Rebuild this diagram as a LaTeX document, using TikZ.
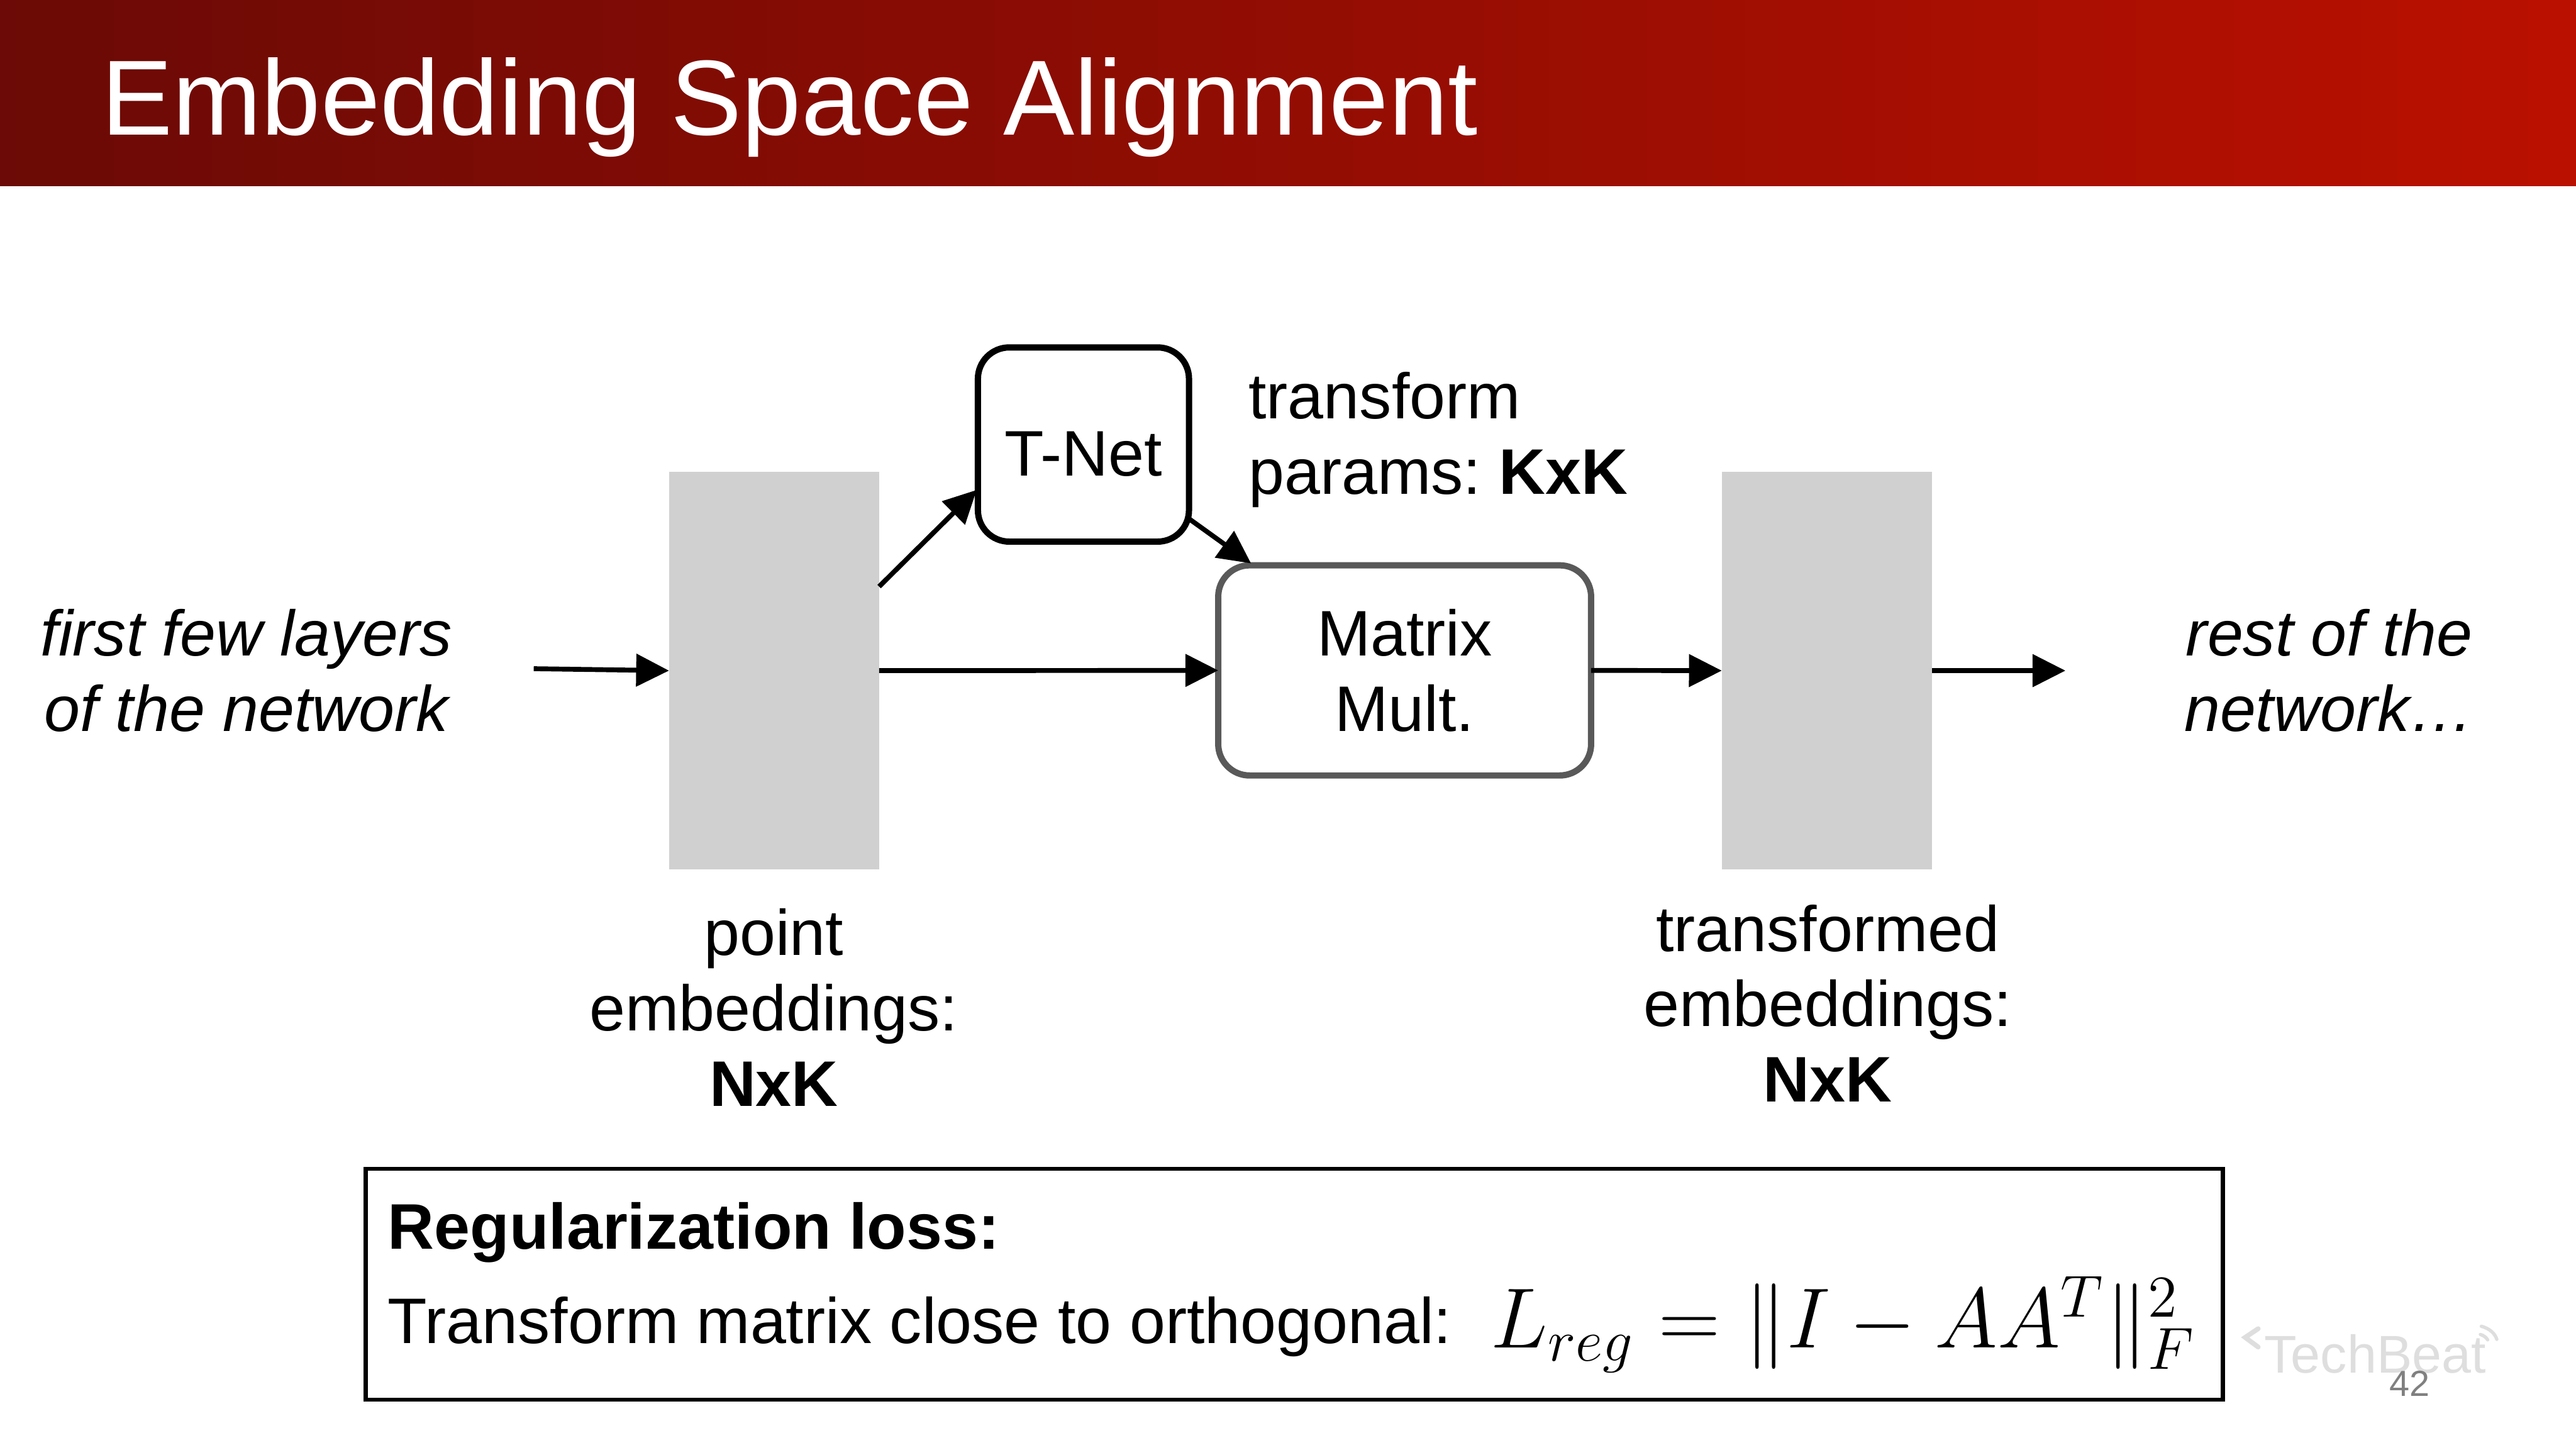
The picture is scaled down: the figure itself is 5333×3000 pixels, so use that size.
\documentclass[tikz,border=0pt]{standalone}
\usepackage{fontspec}
\setmainfont{Liberation Sans}
\usetikzlibrary{arrows.meta}
\definecolor{hdl}{HTML}{6B0A06}
\definecolor{hdr}{HTML}{BA1000}
\definecolor{block}{HTML}{D0D0D0}
\definecolor{wmk}{HTML}{DEDEDE}
\tikzset{
  lbl/.style={inner sep=0pt,outer sep=0pt,align=center,font=\fontsize{13.33}{15.6}\selectfont},
  lblleft/.style={lbl,align=left,anchor=north west},
  layerbox/.style={fill=block,draw=none,inner sep=0pt,outer sep=0pt,minimum width=43.5pt,minimum height=82.3pt},
  opbox/.style={draw=black,line width=1.3pt,rounded corners=6.5pt,fill=white,inner sep=0pt,outer sep=0pt,align=center,font=\fontsize{13.33}{15.6}\selectfont},
  link/.style={draw=black,line width=1pt,-{Triangle[length=6.8pt,width=6.6pt]}},
  wmline/.style={wmk,line cap=round},
}
\begin{document}
\begin{tikzpicture}[x=0.1pt,y=-0.1pt]
\useasboundingbox (0,0) rectangle (5333,3000);
\path[left color=hdl,right color=hdr] (0,0) rectangle (5333,385);
\node[anchor=base west,inner sep=0pt,text=white,font=\fontsize{22.1}{26}\selectfont] (title) at (208,279) {Embedding Space Alignment};

\node[layerbox] (pe) at (1602.5,1388) {};
\node[layerbox] (te) at (3782,1388) {};
\node[opbox,minimum width=43.7pt,minimum height=40.2pt] (tn) at (2243,920) {\raisebox{-2pt}[\height][\depth]{T-Net}};
\node[opbox,draw=black!65,minimum width=77.2pt,minimum height=43.5pt] (mm) at (2908,1387.5) {Matrix\\Mult.};

\node[lbl,anchor=center] (inl) at (510,1388) {\itshape first few layers\\\itshape of the network};
\node[lbl,anchor=center] (outl) at (4822,1388) {\itshape rest of the\\\itshape network…};
\node[lblleft] (tp) at (2585,770) {transform\\params:\hspace{3.7pt}\textbf{KxK}};
\node[lbl,anchor=north] (pl) at (1602,1881) {point\\embeddings:\\\textbf{NxK}};
\node[lbl,anchor=north] (tl) at (3784,1872) {transformed\\embeddings:\\\textbf{NxK}};

\coordinate (inS) at (1105,1384);
\coordinate (outE) at (4276,1388);
\coordinate (peA) at (1820,1214);
\coordinate (tnA) at (2022,1014);
\coordinate (tnB) at (2462,1074);
\coordinate (mmB) at (2590,1166);
\draw[link] (inS) -- (pe.west);
\draw[link] (pe.east) -- (mm.west);
\draw[link] (mm.east) -- (te.west);
\draw[link] (te.east) -- (outE);
\draw[link] (peA) -- (tnA);
\draw[link] (tnB) -- (mmB);

\node[draw=black,line width=.8pt,inner sep=0pt,outer sep=0pt,minimum width=384.5pt,minimum height=47.8pt] (reg) at (2679.5,2658) {};
\node[lblleft,anchor=base west,font=\fontsize{13.33}{15.6}\bfseries\selectfont] (rt) at (803,2585) {Regularization loss:};
\node[lblleft,anchor=base west] (rb) at (803,2780) {Transform matrix close to orthogonal:};
\node[anchor=base west,inner sep=0pt,font=\fontsize{18.45}{22}\selectfont] (eq) at (3085,2790) {\scalebox{1.024}{$L_{reg} = \|I - AA^T\|_F^2$}};

\node[anchor=base west,inner sep=0pt,text=wmk,font=\fontsize{11}{12}\selectfont] (wm) at (4686,2842) {TechBeat};
\draw[wmline,line width=1pt] (4675,2750) -- (4648,2768) -- (4675,2788);
\draw[wmline,line width=.7pt] (5137,2745) .. controls (5155,2750) and (5165,2760) .. (5169,2772);
\draw[wmline,line width=.7pt] (5135,2762) .. controls (5142,2764) and (5147,2768) .. (5150,2773);
\node[anchor=base,inner sep=0pt,text=black!50,font=\fontsize{7.5}{9}\selectfont] (pg) at (4989,2890) {42};
\end{tikzpicture}
\end{document}
